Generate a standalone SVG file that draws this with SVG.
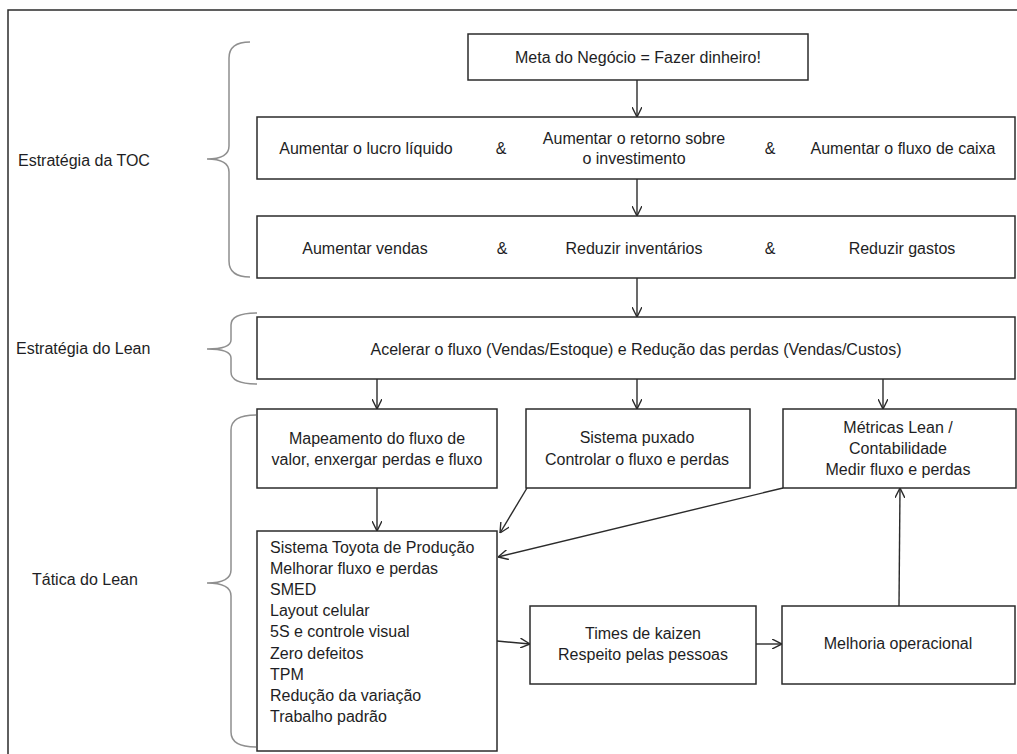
<svg xmlns="http://www.w3.org/2000/svg" width="1017" height="754" viewBox="0 0 1017 754">
  <defs>
    <style>
      .box { fill: #ffffff; stroke: #2b2b2b; stroke-width: 1.5; }
      .t { font-family: "Liberation Sans", Arial, sans-serif; font-size: 16px; fill: #1e1e24; }
      .c { text-anchor: middle; }
      .brace { fill: none; stroke: #8f8f8f; stroke-width: 1.5; }
      .conn { fill: none; stroke: #2b2b2b; stroke-width: 1.4; marker-end: url(#arr); }
    </style>
    <marker id="arr" viewBox="0 0 10 10" refX="10" refY="5" markerWidth="10" markerHeight="10" markerUnits="userSpaceOnUse" orient="auto">
      <path d="M0,0 L10,5 L0,10" fill="none" stroke="#2b2b2b" stroke-width="1.4"/>
    </marker>
  </defs>

  <rect width="1017" height="754" fill="#ffffff"/>
  <!-- outer frame -->
  <path d="M8,754 V10 H1017" fill="none" stroke="#2b2b2b" stroke-width="1.5"/>

  <!-- side labels and braces -->
  <g id="label-toc">
    <path class="brace" d="M250,42 Q229,42 229,58 V146 Q229,159 207,159 Q229,159 229,172 V261 Q229,277 250,277"/>
    <text class="t" x="18" y="165.5">Estratégia da TOC</text>
  </g>
  <g id="label-lean-strategy">
    <path class="brace" d="M257,313 Q231,313 231,325 V340 Q231,349 207,349 Q231,349 231,358 V372 Q231,384 257,384"/>
    <text class="t" x="16" y="353.5">Estratégia do Lean</text>
  </g>
  <g id="label-lean-tactic">
    <path class="brace" d="M256,415 Q231,415 231,430 V570 Q231,583 207,583 Q231,583 231,596 V732 Q231,747 256,747"/>
    <text class="t" x="32" y="584.5">Tática do Lean</text>
  </g>

  <!-- connectors -->
  <g id="connectors">
    <line class="conn" x1="637" y1="80" x2="637" y2="117"/>
    <line class="conn" x1="637" y1="179" x2="637" y2="216"/>
    <line class="conn" x1="637" y1="278" x2="637" y2="317"/>
    <line class="conn" x1="377" y1="379" x2="377" y2="409"/>
    <line class="conn" x1="637" y1="379" x2="637" y2="409"/>
    <line class="conn" x1="883" y1="379" x2="883" y2="409"/>
    <line class="conn" x1="377" y1="488" x2="377" y2="531"/>
    <line class="conn" x1="527" y1="488" x2="500" y2="533"/>
    <line class="conn" x1="783" y1="488" x2="498" y2="557"/>
    <line class="conn" x1="497" y1="641" x2="530" y2="644"/>
    <line class="conn" x1="756" y1="644" x2="782" y2="644"/>
    <line class="conn" x1="899" y1="606" x2="900" y2="488"/>
  </g>

  <g id="goal">
    <rect class="box" x="468" y="34" width="340" height="46"/>
    <text class="t c" x="638" y="62.5">Meta do Negócio = Fazer dinheiro!</text>
  </g>

  <g id="toc-results">
    <rect class="box" x="257" y="117" width="758" height="62"/>
    <text class="t c" x="366" y="153.5">Aumentar o lucro líquido</text>
    <text class="t c" x="501" y="153.5">&amp;</text>
    <text class="t c" x="634" y="143.5">Aumentar o retorno sobre</text>
    <text class="t c" x="634" y="164">o investimento</text>
    <text class="t c" x="770" y="153.5">&amp;</text>
    <text class="t c" x="903" y="153.5">Aumentar o fluxo de caixa</text>
  </g>

  <g id="toc-levers">
    <rect class="box" x="257" y="216" width="758" height="62"/>
    <text class="t c" x="365" y="253.5">Aumentar vendas</text>
    <text class="t c" x="502" y="253.5">&amp;</text>
    <text class="t c" x="634" y="253.5">Reduzir inventários</text>
    <text class="t c" x="770" y="253.5">&amp;</text>
    <text class="t c" x="902" y="253.5">Reduzir gastos</text>
  </g>

  <g id="lean-strategy">
    <rect class="box" x="257" y="317" width="758" height="62"/>
    <text class="t c" x="636" y="354.5">Acelerar o fluxo (Vendas/Estoque) e Redução das perdas (Vendas/Custos)</text>
  </g>

  <g id="value-stream">
    <rect class="box" x="257" y="409" width="240" height="79"/>
    <text class="t c" x="377" y="443.5">Mapeamento do fluxo de</text>
    <text class="t c" x="377" y="465">valor, enxergar perdas e fluxo</text>
  </g>

  <g id="pull-system">
    <rect class="box" x="526" y="409" width="224" height="79"/>
    <text class="t c" x="637" y="442.5">Sistema puxado</text>
    <text class="t c" x="637" y="464.5">Controlar o fluxo e perdas</text>
  </g>

  <g id="lean-metrics">
    <rect class="box" x="783" y="409" width="233" height="79"/>
    <text class="t c" x="898" y="432.5">Métricas Lean /</text>
    <text class="t c" x="898" y="453.5">Contabilidade</text>
    <text class="t c" x="898" y="474.5">Medir fluxo e perdas</text>
  </g>

  <g id="toyota-system">
    <rect class="box" x="257" y="531" width="240" height="220"/>
    <text class="t" x="270" y="552.5">Sistema Toyota de Produção</text>
    <text class="t" x="270" y="573.7">Melhorar fluxo e perdas</text>
    <text class="t" x="270" y="594.9">SMED</text>
    <text class="t" x="270" y="616.1">Layout celular</text>
    <text class="t" x="270" y="637.3">5S e controle visual</text>
    <text class="t" x="270" y="658.5">Zero defeitos</text>
    <text class="t" x="270" y="679.7">TPM</text>
    <text class="t" x="270" y="700.9">Redução da variação</text>
    <text class="t" x="270" y="722.1">Trabalho padrão</text>
  </g>

  <g id="kaizen">
    <rect class="box" x="530" y="606" width="226" height="78"/>
    <text class="t c" x="643" y="638.5">Times de kaizen</text>
    <text class="t c" x="643" y="659.5">Respeito pelas pessoas</text>
  </g>

  <g id="operational-improvement">
    <rect class="box" x="782" y="606" width="233" height="78"/>
    <text class="t c" x="898" y="648.5">Melhoria operacional</text>
  </g>
</svg>
